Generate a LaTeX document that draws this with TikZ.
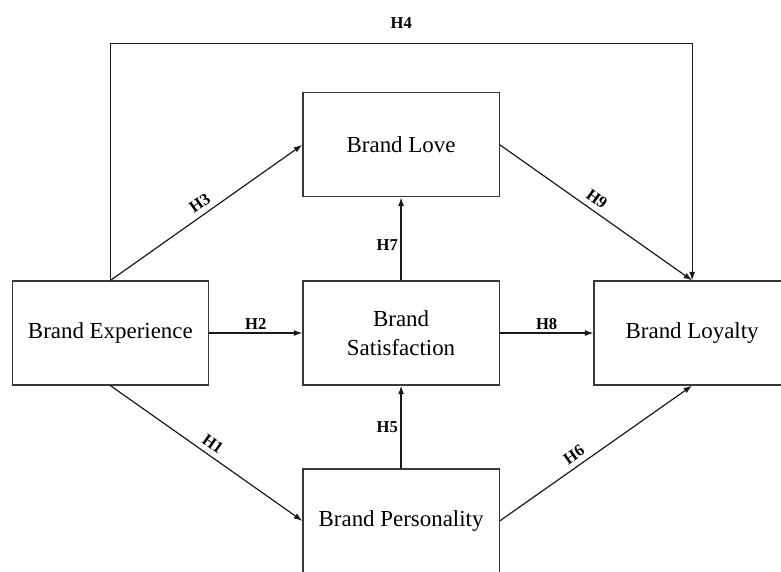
\documentclass[tikz,border=0pt]{standalone}
\usepackage{fontspec}
\setmainfont{Liberation Serif}
\usetikzlibrary{arrows.meta}

\tikzset{
  box/.style={draw=black!78, line width=0.9pt, minimum width=5.19cm, minimum height=2.75cm,
    inner sep=0pt, align=center, font=\fontsize{17.25}{21.75}\selectfont},
  hyp/.style={draw=black!90, line width=0.9pt, -{Latex[length=6.5pt,width=4.5pt]}},
  lbl/.style={font=\fontsize{12.5}{14}\selectfont\bfseries, inner sep=2pt}
}

\begin{document}
\begin{tikzpicture}
			%%%%% FRAME %%%%%
			\clip (0, 0) rectangle (20.66, 15.13);
			
			%%%%% CONSTRUCTS %%%%%
			\node[box] (exp) at (2.92, 6.32) {Brand Experience};
			\node[box] (love) at (10.61, 11.30) {Brand Love};
			\node[box] (sat) at (10.61, 6.32) {Brand\\Satisfaction};
			\node[box] (loy) at (18.31, 6.32) {Brand Loyalty};
			\node[box] (pers) at (10.61, 1.35) {Brand Personality};
			
			\coordinate (top) at (0, 13.97);
			
			%%%%% HYPOTHESES %%%%%
			\draw[hyp] (exp.south) -- (pers.west) node[lbl, midway, sloped, above=2pt] {H1};
			\draw[hyp] (exp.east) -- (sat.west) node[lbl, midway, above] {H2};
			\draw[hyp] (exp.north) -- (love.west) node[lbl, midway, sloped, above=2pt] {H3};
			\draw[hyp] (exp.north) -- (exp.north |- top) -- (loy.north |- top)
				node[lbl, midway, above=0.32cm] {H4} -- (loy.north);
			\draw[hyp] (pers.north) -- (sat.south) node[lbl, midway, left] {H5};
			\draw[hyp] (pers.east) -- (loy.south) node[lbl, pos=0.42, sloped, above=2pt] {H6};
			\draw[hyp] (sat.north) -- (love.south) node[lbl, pos=0.42, left] {H7};
			\draw[hyp] (sat.east) -- (loy.west) node[lbl, midway, above] {H8};
			\draw[hyp] (love.east) -- (loy.north) node[lbl, pos=0.47, sloped, above=2pt] {H9};
			
			%%%%% END %%%%%
		\end{tikzpicture}
\end{document}
